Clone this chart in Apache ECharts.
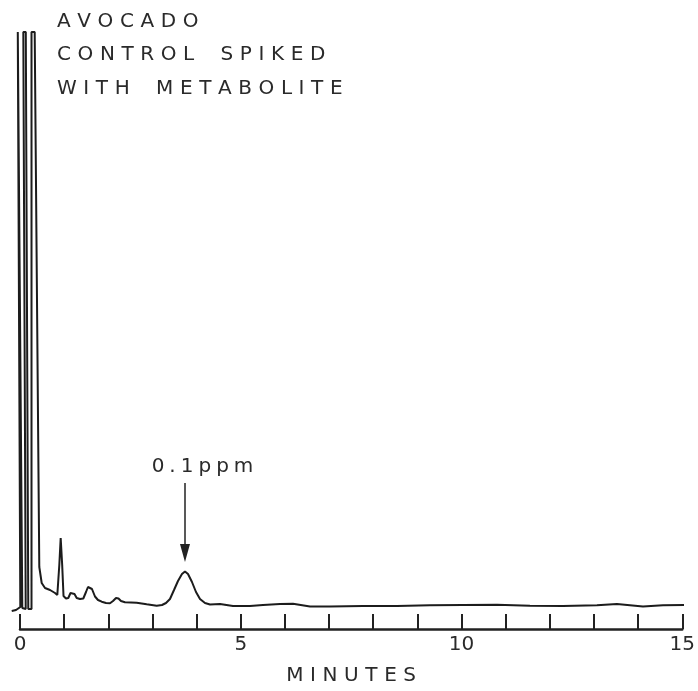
<!DOCTYPE html>
<html>
<head>
<meta charset="utf-8">
<script src="https://cdn.jsdelivr.net/npm/echarts@6/dist/echarts.min.js"></script>
<style>
html,body{margin:0;padding:0;background:#fff;}
#chart{width:698px;height:691px;}
</style>
</head>
<body>
<div id="chart"></div>
<script>
// retention time (minutes)
var times = [-0.187,-0.090,0.007,-0.050,-0.005,0.052,0.090,0.129,0.075,0.131,0.187,0.226,0.260,0.260,0.332,
  0.436,0.490,0.565,0.678,0.791,0.843,0.888,0.919,0.953,0.983,1.039,1.091,1.141,1.186,1.231,1.281,1.355,1.430,
  1.491,1.536,1.581,1.626,1.694,1.762,1.846,1.943,2.033,2.101,2.169,2.225,2.281,2.372,2.507,2.636,2.862,3.088,
  3.208,3.298,3.388,3.479,3.569,3.659,3.727,3.795,3.885,3.976,4.066,4.179,4.292,4.518,4.811,5.195,5.489,5.873,
  6.167,6.551,7.003,7.748,8.516,9.261,10.007,10.775,11.520,12.266,13.034,13.485,14.073,14.525,15.0];
// detector response (arbitrary units; 601 = off scale)
var signal = [22,23,26,601,601,25,24,24,601,601,24,24,24,601,601,
  66,50,45,43,40,38,68,95,68,37,34.5,35,40,42,39,35,34,34.5,
  41,46,48,44,36.5,33,31.3,30,29.7,32,35,34.5,32,30.7,30.5,30.3,28.7,27.3,
  28,30,34,43,52,59,61.5,59,51,41,34,30,28.5,29,27,27,28,29,
  29.3,26.5,26.5,27,27,27.7,28,28.3,27.3,27,27.7,29,26.5,27.7,28];
var xTickLabels = [0, 5, 10, 15];
var titleLines = ['AVOCADO', 'CONTROL SPIKED', 'WITH METABOLITE'];
var axisTitle = 'MINUTES';
var peakLabel = '0.1ppm';
var arrowX = [3.727, 3.727];
var arrowY = [150, 80];
var peakLabelPos = [4.122, 166];
var traceStart = -0.25; // recorder trace begins slightly before injection (t = 0)

function spaced(s, gap, wordGap) {
  return s.split(' ').map(function (w) { return w.split('').join(gap); }).join(wordGap);
}
var THIRD = '\u2004', QUARTER = '\u2005';

var data = times.map(function (t, i) { return [t, signal[i]]; });

var W = 698, gridLeft = 20, gridRight = 14;
var pxPerMin = (W - gridLeft - gridRight) / 15;
var traceLeft = gridLeft + traceStart * pxPerMin;

var chart = echarts.init(document.getElementById('chart'));
chart.setOption({
  animation: false,
  backgroundColor: '#ffffff',
  title: {
    text: titleLines.map(function (l) { return spaced(l, THIRD, THIRD + THIRD + THIRD + THIRD); }).join('\n'),
    left: 57, top: 5, padding: 0,
    textStyle: { fontFamily: 'DejaVu Sans', fontSize: 20, fontWeight: 'normal', color: '#2a2a2a', lineHeight: 33.5 }
  },
  grid: [
    { left: gridLeft, right: gridRight, top: 32, bottom: 58, containLabel: false },
    { left: traceLeft, right: gridRight, top: 32, bottom: 58, containLabel: false }
  ],
  xAxis: [{
    gridIndex: 0, type: 'value', min: 0, max: 15, interval: 1,
    name: spaced(axisTitle, THIRD, ' '), nameLocation: 'middle', nameGap: 37,
    nameTextStyle: { fontFamily: 'DejaVu Sans', fontSize: 20, color: '#2a2a2a' },
    axisLine: { show: true, onZero: false, lineStyle: { color: '#222', width: 2.5 } },
    axisTick: { show: true, inside: true, length: 15, lineStyle: { color: '#222', width: 2 } },
    axisLabel: {
      margin: 6, fontFamily: 'DejaVu Sans', fontSize: 20, color: '#2a2a2a',
      formatter: function (v) { return xTickLabels.indexOf(v) >= 0 ? String(v) : ''; }
    },
    splitLine: { show: false }
  }, {
    gridIndex: 1, type: 'value', min: traceStart, max: 15, show: false, splitLine: { show: false }
  }],
  yAxis: [
    { gridIndex: 0, type: 'value', min: 0, max: 601, show: false, splitLine: { show: false } },
    { gridIndex: 1, type: 'value', min: 0, max: 601, show: false, splitLine: { show: false } }
  ],
  series: [{
    type: 'line', xAxisIndex: 1, yAxisIndex: 1, data: data, showSymbol: false, clip: false, smooth: false,
    lineStyle: { color: '#1c1c1c', width: 2 },
    markLine: {
      silent: true, symbol: ['none', 'triangle'], symbolSize: [10, 18],
      lineStyle: { color: '#222', width: 1.5, type: 'solid' },
      label: { show: false },
      data: [[{ coord: [arrowX[0], arrowY[0]] }, { coord: [arrowX[1], arrowY[1]] }]]
    },
    markPoint: {
      silent: true, symbol: 'circle', symbolSize: 0,
      label: { show: true, position: 'inside', formatter: spaced(peakLabel, QUARTER, QUARTER),
        fontFamily: 'DejaVu Sans', fontSize: 20, color: '#2a2a2a' },
      data: [{ coord: peakLabelPos }]
    }
  }]
});
</script>
</body>
</html>
